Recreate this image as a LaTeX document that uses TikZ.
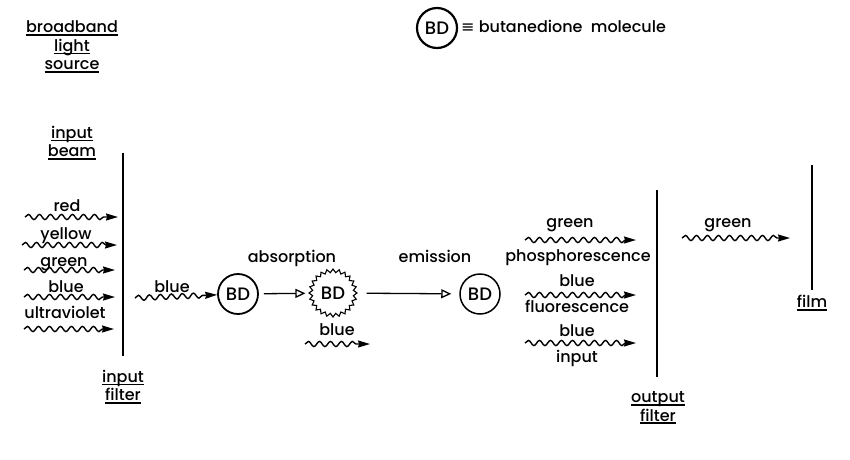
\documentclass[tikz,border=0pt]{standalone}
\usepackage{fontspec}
\setmainfont{Poppins Medium}
\newfontfamily\symfont{DejaVu Sans}
\usetikzlibrary{arrows.meta}
\usetikzlibrary{decorations.pathmorphing}
\usetikzlibrary{shapes.geometric}
\newcommand{\undl}[1]{\leavevmode\setbox0\hbox{#1}\rlap{\raisebox{-3pt}{\rule{\wd0}{1.8pt}}}\box0}

\begin{document}
\begin{tikzpicture}[x=1pt, y=-1pt,
    font=\fontsize{16}{18.5}\selectfont,
    lbl/.style={text height=12pt, text depth=3pt, inner sep=0pt},
    heading/.style={align=center, inner sep=0pt},
    wave/.style={line width=1.4pt, decorate,
      decoration={snake, amplitude=2.6pt, segment length=11pt, post length=10pt},
      -{Stealth[length=12pt, width=7pt, inset=1pt]}},
    bd/.style={circle, draw, line width=1.8pt, minimum size=40pt, inner sep=0pt,
      font=\fontsize{18}{20}\selectfont},
    excited/.style={star, star points=24, star point ratio=1.17, draw, line width=1.1pt,
      minimum size=48pt, inner sep=0pt, font=\fontsize{18}{20}\selectfont},
    step arrow/.style={line width=1.3pt, -{Triangle[open, length=10pt, width=9pt]}},
    screen/.style={line width=2.8pt}]

    \useasboundingbox (0, 0) rectangle (850, 459);

    % key
    \node [bd, line width=2.2pt] (key) at (437, 28) {BD};
    \node [lbl, anchor=west] (keytext) at (461, 28) {{\symfont ≡} butanedione\ \ molecule};

    % source and input filter
    \node [heading] (source) at (72, 47) {\undl{broadband}\\\undl{light}\\\undl{source}};
    \node [heading] (beam) at (72, 143) {\undl{input}\\\undl{beam}};

    \coordinate (infilter top) at (123, 153);
    \coordinate (infilter bot) at (123, 356);
    \draw [screen] (infilter top) -- (infilter bot);
    \node [heading] (infilter) at (123, 387) {\undl{input}\\\undl{filter}};

    \coordinate (red s) at (25, 217);
    \coordinate (red e) at (118, 217);
    \draw [wave] (red s) -- (red e);
    \node [lbl] (red) at (67, 207) {red};

    \coordinate (yellow s) at (22, 245);
    \coordinate (yellow e) at (117, 245);
    \draw [wave] (yellow s) -- (yellow e);
    \node [lbl] (yellow) at (66, 235) {yellow};

    \coordinate (green s) at (24, 270);
    \coordinate (green e) at (115, 270);
    \draw [wave] (green s) -- (green e);
    \node [lbl] (green) at (64, 262) {green};

    \coordinate (blue s) at (24, 297);
    \coordinate (blue e) at (115, 297);
    \draw [wave] (blue s) -- (blue e);
    \node [lbl] (blue) at (66, 288) {blue};

    \coordinate (uv s) at (24, 329);
    \coordinate (uv e) at (114, 329);
    \draw [wave] (uv s) -- (uv e);
    \node [lbl] (uv) at (65, 314) {ultraviolet};

    % the molecule
    \node [bd] (ground) at (238, 294) {BD};
    \node [excited] (star) at (333, 293) {BD};
    \node [bd, line width=1.5pt] (emit) at (480, 294) {BD};

    \coordinate (pass s) at (135, 298);
    \draw [wave] (pass s) -- (ground);
    \node [lbl] (pass) at (172, 288) {blue};

    \draw [step arrow, shorten <=5pt, shorten >=3pt] (ground) -- (star);
    \draw [step arrow, shorten <=9pt, shorten >=8pt] (star) -- (emit);
    \node [lbl] (absorb) at (292, 258) {absorption};
    \node [lbl] (emission) at (435, 258) {emission};

    \coordinate (lost s) at (305, 344);
    \coordinate (lost e) at (370, 344);
    \draw [wave] (lost s) -- (lost e);
    \node [lbl] (lost) at (337, 331) {blue};

    % output side
    \coordinate (phos s) at (525, 240);
    \coordinate (phos e) at (636, 240);
    \draw [wave] (phos s) -- (phos e);
    \node [lbl] (phos top) at (570, 223) {green};
    \node [lbl] (phos bot) at (578, 257) {phosphorescence};

    \coordinate (fluo s) at (525, 295);
    \coordinate (fluo e) at (636, 295);
    \draw [wave] (fluo s) -- (fluo e);
    \node [lbl] (fluo top) at (577, 282) {blue};
    \node [lbl] (fluo bot) at (577, 308) {fluorescence};

    \coordinate (inp s) at (525, 343);
    \coordinate (inp e) at (636, 343);
    \draw [wave] (inp s) -- (inp e);
    \node [lbl] (inp top) at (577, 332) {blue};
    \node [lbl] (inp bot) at (577, 358) {input};

    \coordinate (outfilter top) at (657, 190);
    \coordinate (outfilter bot) at (657, 377);
    \draw [screen] (outfilter top) -- (outfilter bot);
    \node [heading] (outfilter) at (658, 408) {\undl{output}\\\undl{filter}};

    \coordinate (film s) at (682, 238);
    \coordinate (film e) at (790, 238);
    \draw [wave] (film s) -- (film e);
    \node [lbl] (onfilm) at (728, 223) {green};

    \coordinate (film top) at (812, 165);
    \coordinate (film bot) at (812, 290);
    \draw [line width=1.6pt] (film top) -- (film bot);
    \node [lbl] (film) at (812, 303) {\undl{film}};

\end{tikzpicture}
\end{document}
